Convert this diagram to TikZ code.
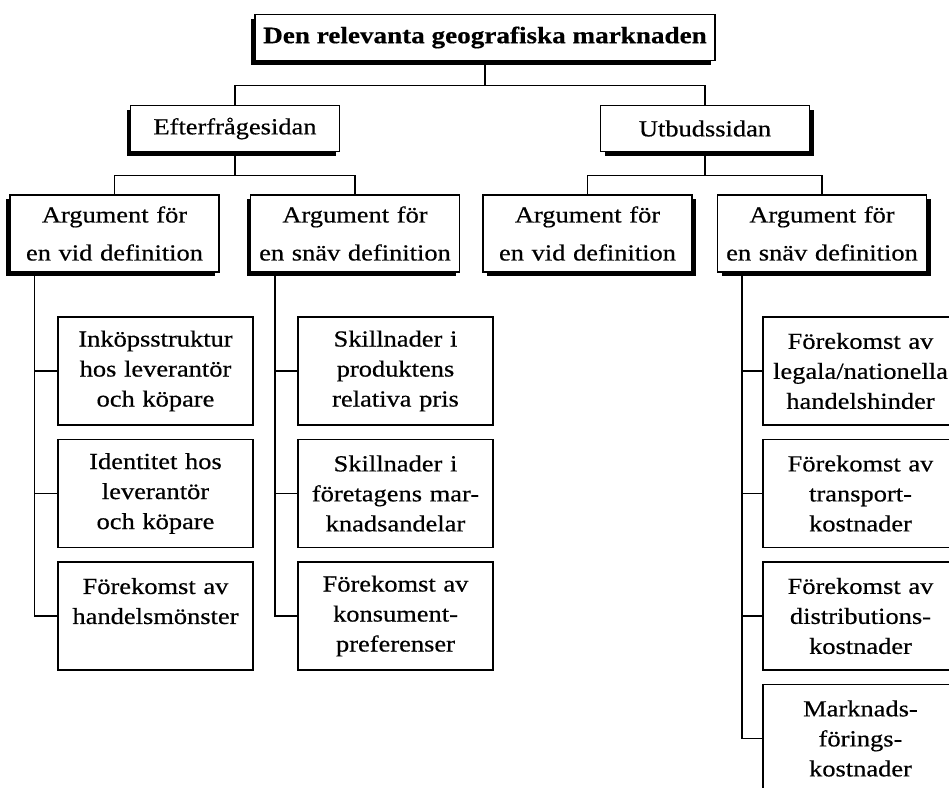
\documentclass[tikz,border=0pt]{standalone}
\usepackage{fontspec}
\setmainfont{Liberation Serif}[FakeStretch=1.15,FakeBold=0.5]
\usetikzlibrary{positioning}
\usetikzlibrary{shadows}

\begin{document}
\begin{tikzpicture}[x=1pt,
                    y=1pt,
                    line width=1.5pt,
                    node distance=13pt,
                    txt/.style={font=\fontsize{23pt}{30pt}\selectfont},
                    lshadow/.style={drop shadow={shadow xshift=-4pt,shadow yshift=-4pt,fill=black,opacity=1}},
                    rshadow/.style={drop shadow={shadow xshift=4pt,shadow yshift=-4pt,fill=black,opacity=1}},
                    headbox/.style={draw,fill=white,txt,minimum width=209pt,minimum height=46pt,inner sep=2pt},
                    argbox/.style={draw,fill=white,align=center,text width=200pt,minimum width=209pt,
                                   minimum height=77pt,inner sep=2pt,font=\fontsize{23pt}{38pt}\selectfont},
                    subbox/.style={draw,align=center,text width=190pt,minimum width=195pt,
                                   minimum height=108pt,inner sep=2pt,txt}
                    %bold/.style={font=\bfseries}
                    ]
  \clip (0,0) rectangle (949,-787);

  % top and the two sides
  \node[headbox,lshadow] (market) at (485,-37.5) [minimum width=460pt,
        font=\fontsize{23.6pt}{30pt}\selectfont\bfseries]{Den relevanta geografiska marknaden};
  \node[headbox,lshadow] (demand) at (235,-128.5) {Efterfrågesidan};
  \node[headbox,rshadow] (supply) at (705,-128.5) {Utbudssidan};

  % arguments
  \node[argbox,lshadow] (dwide)   at (114.5,-233.5) {Argument för\\en vid definition};
  \node[argbox,lshadow] (dnarrow) at (355,-233.5)   {Argument för\\en snäv definition};
  \node[argbox,rshadow] (swide)   at (587.5,-233.5) {Argument för\\en vid definition};
  \node[argbox,rshadow] (snarrow) at (822,-233.5)   {Argument för\\en snäv definition};

  % demand side, wide
  \node[subbox] (dw1) at (155.5,-371) {Inköpsstruktur\\hos leverantör\\och köpare};
  \node[subbox] (dw2) [below=of dw1]  {Identitet hos\\leverantör\\och köpare};
  \node[subbox] (dw3) [below=of dw2]  {Förekomst av\\handelsmönster\\\mbox{}};

  % demand side, narrow
  \node[subbox] (dn1) at (395.5,-371) {Skillnader i\\produktens\\relativa pris};
  \node[subbox] (dn2) [below=of dn1]  {Skillnader i\\företagens mar-\\knadsandelar};
  \node[subbox] (dn3) [below=of dn2]  {Förekomst av\\konsument-\\preferenser};

  % supply side, narrow
  \node[subbox] (sn1) at (860.5,-371) {Förekomst av\\legala/nationella\\handelshinder};
  \node[subbox] (sn2) [below=of sn1]  {Förekomst av\\transport-\\kostnader};
  \node[subbox] (sn3) [below=of sn2]  {Förekomst av\\distributions-\\kostnader};
  \node[subbox] (sn4) [below=of sn3]  {Marknads-\\förings-\\kostnader};

  % tree lines
  \draw (market.south) -- ([yshift=-24pt]market.south);
  \draw (demand.north) |- ([yshift=-24pt]market.south) -| (supply.north);
  \draw (demand.south) -- ([yshift=-23pt]demand.south);
  \draw (dwide.north) |- ([yshift=-23pt]demand.south) -| (dnarrow.north);
  \draw (supply.south) -- ([yshift=-23pt]supply.south);
  \draw (swide.north) |- ([yshift=-23pt]supply.south) -| (snarrow.north);

  \foreach \n in {dw1,dw2,dw3}
    \draw ([xshift=25pt]dwide.south west) |- (\n.west);
  \foreach \n in {dn1,dn2,dn3}
    \draw ([xshift=25pt]dnarrow.south west) |- (\n.west);
  \foreach \n in {sn1,sn2,sn3,sn4}
    \draw ([xshift=25pt]snarrow.south west) |- (\n.west);
\end{tikzpicture}
\end{document}
